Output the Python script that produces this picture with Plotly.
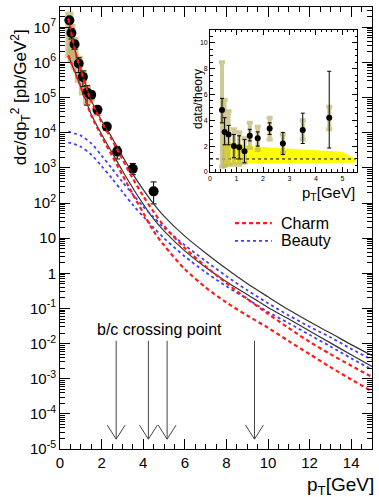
import plotly.graph_objects as go

# ---------------- data ----------------
pt_data = [0.45, 0.55, 0.7, 0.9, 1.1, 1.3, 1.5, 1.8, 2.25, 2.75, 3.5, 4.5]
xsec = [1.6e7, 6.9e6, 3.3e6, 9.4e5, 3.9e5, 1.4e5, 1.2e5, 4.5e4, 1.5e4, 2.95e3, 950, 215]

ratio = [4.8, 3.1, 2.9, 2.0, 1.9, 1.6, 2.8, 2.6, 3.37, 2.2, 3.24, 4.2]
ratio_stat_hi = [5.7, 4.2, 3.6, 2.9, 2.8, 2.5, 3.3, 3.1, 3.8, 3.06, 4.55, 7.8]
ratio_stat_lo = [3.8, 2.1, 2.1, 1.1, 1.0, 0.7, 2.4, 2.0, 2.9, 1.34, 2.2, 1.85]
ratio_sys_hi = [8.5, 5.6, 4.7, 3.3, 3.05, 2.6, 3.8, 3.5, 4.2, 2.9, 4.0, 5.05]
ratio_sys_lo = [0.4, 0.45, 0.56, 0.56, 0.56, 0.7, 1.85, 1.7, 2.5, 1.5, 2.5, 3.3]

# theory curves (log10 of dsigma/dpT^2)
pt_curve = [0.4, 0.5, 0.7, 1.0, 1.5, 2.0, 2.5, 3.0, 3.5, 4.0, 4.5, 5.0, 6.0, 7.0,
            8.0, 9.0, 10.0, 11.0, 12.0, 13.0, 14.0, 15.0]
charm_hi = [7.25, 6.98, 6.4, 5.78, 4.9, 4.3, 3.8, 3.25, 2.7, 2.2, 1.75, 1.35, 0.72, 0.2,
            -0.28, -0.73, -1.15, -1.56, -1.95, -2.3, -2.63, -2.95]
charm_lo = [6.2, 6.05, 5.75, 5.3, 4.5, 3.9, 3.35, 2.8, 2.25, 1.72, 1.2, 0.8, 0.12, -0.4,
            -0.83, -1.2, -1.55, -1.93, -2.3, -2.67, -3.02, -3.36]
beauty_hi = [4.03, 4.02, 3.98, 3.92, 3.7, 3.35, 2.98, 2.6, 2.25, 1.9, 1.6, 1.3, 0.8, 0.35,
             -0.08, -0.48, -0.85, -1.2, -1.52, -1.82, -2.15, -2.46]
beauty_lo = [3.72, 3.71, 3.68, 3.6, 3.38, 3.05, 2.7, 2.32, 1.95, 1.62, 1.3, 1.0, 0.48, 0.03,
             -0.37, -0.73, -1.1, -1.42, -1.75, -2.08, -2.42, -2.74]
total_hi = [7.25, 6.98, 6.4, 5.79, 4.93, 4.35, 3.86, 3.34, 2.83, 2.38, 1.98, 1.63, 1.06, 0.58,
            0.13, -0.29, -0.67, -1.04, -1.38, -1.70, -2.03, -2.34]
total_lo = [6.2, 6.05, 5.75, 5.31, 4.53, 3.96, 3.44, 2.92, 2.43, 1.97, 1.55, 1.21, 0.64, 0.17,
            -0.24, -0.60, -0.97, -1.30, -1.64, -1.98, -2.32, -2.65]

# theory uncertainty band in ratio plot
band_pt_up = [0.5, 0.85, 1.5, 2.5, 3.5, 4.5, 5.0, 5.5]
band_up = [2.4, 2.25, 2.0, 1.85, 1.72, 1.6, 1.55, 1.0]
band_pt_lo = [0.5, 0.7, 1.0, 1.5, 3.0, 5.0, 5.5]
band_lo = [0.25, 0.45, 0.6, 0.65, 0.68, 0.7, 0.7]

crossing_pt = [2.7, 4.25, 5.15, 9.35]

x_ticks = [0, 2, 4, 6, 8, 10, 12, 14]
y_exps = list(range(-5, 8))

legend_names = ["Charm", "Beauty"]

# ---------------- styles ----------------
FONT = "Liberation Sans, Arial, Helvetica, sans-serif"
SYS_COL = "rgba(188,178,105,0.7)"
RED = "#ff1a1a"
BLUE = "#4040ff"
RED_DASH = "4px,3px"


def lin(v):
    return [10 ** a for a in v]


fig = go.Figure()

# main panel: systematic boxes
sys_plus = [y * h / r - y for y, h, r in zip(xsec, ratio_sys_hi, ratio)]
sys_minus = [y - y * l / r for y, l, r in zip(xsec, ratio_sys_lo, ratio)]
fig.add_trace(go.Scatter(
    x=pt_data, y=xsec, mode="markers", marker=dict(size=1, color="rgba(0,0,0,0)"),
    error_y=dict(type="data", symmetric=False, array=sys_plus, arrayminus=sys_minus,
                 color=SYS_COL, thickness=8, width=0),
    showlegend=False, hoverinfo="skip"))

stat_plus = [y * h / r - y for y, h, r in zip(xsec, ratio_stat_hi, ratio)]
stat_minus = [y - y * l / r for y, l, r in zip(xsec, ratio_stat_lo, ratio)]
fig.add_trace(go.Scatter(
    x=pt_data, y=xsec, mode="markers", marker=dict(size=10, color="black"),
    error_y=dict(type="data", symmetric=False, array=stat_plus, arrayminus=stat_minus,
                 color="black", thickness=1, width=3),
    showlegend=False))

# theory curves
for ys, col, dash, wid in [
    (total_hi, "#333333", "solid", 1.2),
    (total_lo, "#333333", "solid", 1.2),
    (beauty_hi, BLUE, "dot", 1.8),
    (beauty_lo, BLUE, "dot", 1.8),
    (charm_hi, RED, RED_DASH, 2.2),
    (charm_lo, RED, RED_DASH, 2.2),
]:
    fig.add_trace(go.Scatter(
        x=pt_curve, y=lin(ys), mode="lines", showlegend=False,
        line=dict(color=col, dash=dash, width=wid, shape="spline", smoothing=0.8)))

# crossing arrows
for c in crossing_pt:
    fig.add_trace(go.Scatter(
        x=[c, c, None, c - 0.43, c, c + 0.43],
        y=[10 ** -1.92, 10 ** -4.72, None, 10 ** -4.32, 10 ** -4.72, 10 ** -4.32],
        mode="lines", line=dict(color="#444444", width=1), showlegend=False,
        hoverinfo="skip"))

# ---------------- inset ----------------
fig.add_trace(go.Scatter(
    x=band_pt_up + band_pt_lo[::-1], y=band_up + band_lo[::-1],
    fill="toself", fillcolor="#ffff00", line=dict(width=0, color="#ffff00"),
    mode="lines", xaxis="x2", yaxis="y2", showlegend=False, hoverinfo="skip"))
fig.add_trace(go.Scatter(
    x=[0, 5.5], y=[1, 1], mode="lines", line=dict(color="black", dash="dot", width=1),
    xaxis="x2", yaxis="y2", showlegend=False, hoverinfo="skip"))
fig.add_trace(go.Scatter(
    x=pt_data, y=ratio, mode="markers", marker=dict(size=1, color="rgba(0,0,0,0)"),
    error_y=dict(type="data", symmetric=False,
                 array=[h - r for h, r in zip(ratio_sys_hi, ratio)],
                 arrayminus=[r - l for l, r in zip(ratio_sys_lo, ratio)],
                 color=SYS_COL, thickness=4, width=3),
    xaxis="x2", yaxis="y2", showlegend=False, hoverinfo="skip"))
fig.add_trace(go.Scatter(
    x=pt_data, y=ratio, mode="markers", marker=dict(size=6, color="black"),
    error_y=dict(type="data", symmetric=False,
                 array=[h - r for h, r in zip(ratio_stat_hi, ratio)],
                 arrayminus=[r - l for l, r in zip(ratio_stat_lo, ratio)],
                 color="black", thickness=1, width=2),
    xaxis="x2", yaxis="y2", showlegend=False))

# ---------------- axes ----------------
minor_y = [k * 10 ** e for e in range(-5, 8) for k in range(2, 10)]
y_text = []
for e in y_exps:
    if e == 0:
        y_text.append("1")
    elif e == 1:
        y_text.append("10")
    else:
        y_text.append("10<sup>%d</sup>" % e)

axis_common = dict(showgrid=False, zeroline=False, showline=True, linecolor="black",
                   linewidth=1, mirror="ticks", ticks="inside", tickcolor="black",
                   automargin=False)

# manual legend (sample lines as shapes, labels as annotations)
leg_y = [0.511, 0.471]
leg_styles = [(RED, RED_DASH, 2.2), (BLUE, "dot", 1.8)]
shapes = []
leg_ann = []
for name, yy, (col, dash, wid) in zip(legend_names, leg_y, leg_styles):
    shapes.append(dict(type="line", xref="paper", yref="paper", x0=0.561, x1=0.679,
                       y0=yy, y1=yy, line=dict(color=col, dash=dash, width=wid)))
    leg_ann.append(dict(text=name, xref="paper", yref="paper", x=0.703, y=yy,
                        xanchor="left", yanchor="middle", showarrow=False,
                        font=dict(size=16, family=FONT)))

fig.update_layout(
    template="none",
    width=379, height=497,
    margin=dict(l=60, r=7, t=7, b=48, autoexpand=False),
    paper_bgcolor="white", plot_bgcolor="white",
    font=dict(family=FONT, color="black"),
    showlegend=False,
    xaxis=dict(range=[0, 15], tickvals=x_ticks, ticklen=10, tickwidth=1,
               tickfont=dict(size=15),
               minor=dict(dtick=0.5, ticklen=5, tickcolor="black", ticks="inside",
                          showgrid=False),
               **axis_common),
    yaxis=dict(type="log", range=[-5, 7.58], tickvals=[10 ** e for e in y_exps],
               ticktext=y_text, ticklen=10, tickfont=dict(size=15),
               minor=dict(tickmode="array", tickvals=minor_y, ticklen=5,
                          tickcolor="black", ticks="inside", showgrid=False),
               **axis_common),
    xaxis2=dict(domain=[0.481, 0.952], anchor="y2", range=[0, 5.55], dtick=1,
                ticklen=5, tickfont=dict(size=7),
                minor=dict(dtick=0.2, ticklen=2.5, tickcolor="black", ticks="inside",
                           showgrid=False),
                **axis_common),
    yaxis2=dict(domain=[0.627, 0.948], anchor="x2", range=[0, 11], dtick=2,
                ticklen=5, tickfont=dict(size=7),
                minor=dict(dtick=0.5, ticklen=2.5, tickcolor="black", ticks="inside",
                           showgrid=False),
                **axis_common),
    shapes=shapes,
    annotations=[
        dict(text="dσ/dp<sub>T</sub><sup>2</sup> [pb/GeV<sup>2</sup>]", textangle=-90,
             xref="paper", yref="paper", x=-0.128, y=0.796, xanchor="center",
             yanchor="middle", showarrow=False, font=dict(size=17, family=FONT)),
        dict(text="p<sub>T</sub>[GeV]", xref="paper", yref="paper", x=1.013, y=-0.084,
             xanchor="right", yanchor="middle", showarrow=False,
             font=dict(size=19, family=FONT)),
        dict(text="b/c crossing point", xref="x", yref="y", x=4.8, y=-1.61,
             showarrow=False, font=dict(size=16, family=FONT)),
        dict(text="data/theory", textangle=-90, xref="paper", yref="paper",
             x=0.442, y=0.864, showarrow=False, font=dict(size=12, family=FONT)),
        dict(text="p<sub>T</sub>[GeV]", xref="paper", yref="paper", x=0.952, y=0.578,
             xanchor="right", yanchor="middle", showarrow=False,
             font=dict(size=15, family=FONT)),
    ] + leg_ann,
)

fig.write_html("out.html",
               config={"displayModeBar": False},
               post_script="document.body.style.margin='0';"
                           "document.body.style.overflow='hidden';")
